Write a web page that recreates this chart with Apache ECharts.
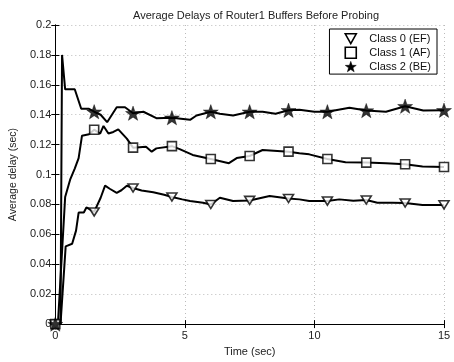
<!DOCTYPE html>
<html>
<head>
<meta charset="utf-8">
<script src="https://cdn.jsdelivr.net/npm/echarts@6/dist/echarts.min.js"></script>
<style>
html,body{margin:0;padding:0;background:#fff;}
#chart{width:454px;height:362px;}
</style>
</head>
<body>
<div id="chart"></div>
<script>
var titleText = 'Average Delays of Router1 Buffers Before Probing';
var xName = 'Time (sec)';
var yName = 'Average delay (sec)';
var seriesNames = ['Class 0 (EF)', 'Class 1 (AF)', 'Class 2 (BE)'];
var markerTimes = [0, 1.5, 3, 4.5, 6, 7.5, 9, 10.5, 12, 13.5, 15];

var timesEF = [0, 0.2, 0.4, 0.65, 0.8, 0.9, 1.1, 1.2, 1.5, 1.75, 1.92, 2.1, 2.37, 2.55, 2.76, 3.0, 3.33, 3.78, 4.2, 4.5, 4.9, 5.2, 5.7, 6.0, 6.35, 6.86, 7.5, 8.27, 9.0, 9.42, 9.8, 10.5, 10.96, 11.5, 12.0, 12.43, 13.0, 13.5, 14.17, 15];
var valuesEF = [0, 0, 0.052, 0.0537, 0.0625, 0.0746, 0.0746, 0.078, 0.075, 0.0845, 0.0926, 0.0905, 0.0878, 0.0895, 0.0925, 0.091, 0.0893, 0.0882, 0.0865, 0.085, 0.0834, 0.0823, 0.0812, 0.080, 0.0845, 0.0823, 0.0827, 0.0856, 0.084, 0.0834, 0.0823, 0.0823, 0.0834, 0.0825, 0.083, 0.0812, 0.0812, 0.081, 0.0797, 0.0797];

var timesAF = [0, 0.1, 0.38, 0.58, 0.75, 0.9, 1.03, 1.3, 1.5, 1.73, 1.86, 2.05, 2.24, 2.43, 2.76, 3.0, 3.5, 3.72, 3.9, 4.5, 4.8, 5.3, 6.0, 6.7, 7.0, 7.5, 8.0, 9.0, 9.42, 9.8, 10.5, 11.2, 12.0, 12.76, 13.5, 14.17, 15];
var valuesAF = [0, 0, 0.085, 0.097, 0.104, 0.111, 0.126, 0.127, 0.130, 0.1274, 0.1325, 0.1274, 0.1285, 0.1302, 0.124, 0.118, 0.1186, 0.1153, 0.1175, 0.119, 0.117, 0.1131, 0.1104, 0.1076, 0.111, 0.1124, 0.1164, 0.1153, 0.1142, 0.1135, 0.1104, 0.1082, 0.108, 0.1076, 0.1069, 0.1054, 0.105];

var timesBE = [0, 0.2, 0.26, 0.38, 0.75, 1.0, 1.3, 1.5, 1.75, 2.0, 2.37, 2.69, 3.0, 3.4, 3.9, 4.5, 5.2, 5.45, 6.0, 6.35, 6.86, 7.5, 8.0, 8.5, 9.0, 9.42, 10.0, 10.5, 11.35, 12.0, 12.76, 13.5, 14.2, 15];
var valuesBE = [0, 0, 0.18, 0.157, 0.157, 0.144, 0.144, 0.142, 0.140, 0.135, 0.145, 0.145, 0.141, 0.142, 0.1377, 0.138, 0.1366, 0.1395, 0.142, 0.1406, 0.1395, 0.142, 0.142, 0.1406, 0.143, 0.1434, 0.142, 0.142, 0.1446, 0.1428, 0.142, 0.1457, 0.1428, 0.143];

var FONT = 'Liberation Sans';
var STAR = 'path://M0,-10 L2.35,-3.24 L9.51,-3.09 L3.8,1.24 L5.88,8.09 L0,4 L-5.88,8.09 L-3.8,1.24 L-9.51,-3.09 L-2.35,-3.24 Z';
var TRI_DOWN = 'path://M-5,-4.5 L5,-4.5 L0,4.5 Z';

function pairs(ts, vs) { return ts.map(function (t, i) { return [t, vs[i]]; }); }
function markers(ts, vs) {
  return markerTimes.map(function (m) { var i = ts.indexOf(m); return [ts[i], vs[i]]; });
}

var markerStyles = [
  { symbol: TRI_DOWN, symbolSize: [10, 9], itemStyle: { color: '#fff', borderColor: '#000', borderWidth: 1.6 } },
  { symbol: 'rect', symbolSize: 9, itemStyle: { color: '#fff', borderColor: '#000', borderWidth: 1.6 } },
  { symbol: STAR, symbolSize: 15, itemStyle: { color: '#000', borderColor: '#000', borderWidth: 0.5 } }
];
var dataSets = [[timesEF, valuesEF], [timesAF, valuesAF], [timesBE, valuesBE]];

var series = [];
dataSets.forEach(function (d, k) {
  series.push({
    name: seriesNames[k], type: 'line', xAxisIndex: 0, yAxisIndex: 0,
    data: pairs(d[0], d[1]), showSymbol: false, symbol: 'none',
    lineStyle: { color: '#000', width: 2 }, itemStyle: { color: '#000' },
    silent: true, z: 3, animation: false
  });
  var ms = markerStyles[k];
  series.push({
    name: seriesNames[k], type: 'scatter', xAxisIndex: 0, yAxisIndex: 0,
    data: markers(d[0], d[1]), symbol: ms.symbol, symbolSize: ms.symbolSize,
    symbolKeepAspect: true,
    itemStyle: ms.itemStyle, z: 4, animation: false
  });
});

var chart = echarts.init(document.getElementById('chart'), null, { renderer: 'canvas' });
var axisLine = { show: true, lineStyle: { color: '#000', width: 1 } };
var tick = { show: true, inside: true, length: 4, lineStyle: { color: '#000' } };
chart.setOption({
  animation: false,
  backgroundColor: '#fff',
  title: {
    text: titleText, left: 251, top: 5, textAlign: 'center',
    textStyle: { fontFamily: FONT, fontSize: 11, fontWeight: 'normal', color: '#222' }
  },
  legend: {
    orient: 'vertical', right: 17, top: 29,
    backgroundColor: '#fff', borderColor: '#000', borderWidth: 1, borderRadius: 0,
    padding: [4, 6, 2, 15], itemGap: 2, itemWidth: 11, itemHeight: 11,
    textStyle: { fontFamily: FONT, fontSize: 11, color: '#111', padding: [0, 0, 0, 8] },
    data: [
      { name: seriesNames[0], icon: TRI_DOWN, itemStyle: { color: '#fff', borderColor: '#000', borderWidth: 1.6 } },
      { name: seriesNames[1], icon: 'rect', itemStyle: { color: '#fff', borderColor: '#000', borderWidth: 1.6 } },
      { name: seriesNames[2], icon: STAR, itemStyle: { color: '#000', borderColor: '#000', borderWidth: 0.5 } }
    ],
    selectedMode: false
  },
  grid: { left: 55, right: 10, top: 25, bottom: 34, containLabel: false },
  xAxis: [
    {
      type: 'value', min: 0, max: 15, interval: 5, position: 'bottom',
      name: xName, nameLocation: 'middle', nameGap: 18,
      nameTextStyle: { fontFamily: FONT, fontSize: 11, color: '#222' },
      axisLine: axisLine, axisTick: tick,
      axisLabel: { fontFamily: FONT, fontSize: 11, color: '#222', margin: 6 },
      splitLine: { show: true, lineStyle: { color: '#bbb', type: [1, 3], width: 1 } }
    },
    {
      type: 'value', min: 0, max: 15, interval: 5, position: 'top',
      axisLine: axisLine, axisTick: tick, axisLabel: { show: false }, splitLine: { show: false }
    }
  ],
  yAxis: [
    {
      type: 'value', min: 0, max: 0.2, interval: 0.02, position: 'left',
      name: yName, nameLocation: 'middle', nameGap: 35,
      nameTextStyle: { fontFamily: FONT, fontSize: 10.5, color: '#222' },
      axisLine: axisLine, axisTick: tick,
      axisLabel: { fontFamily: FONT, fontSize: 11, color: '#222', margin: 4,
        formatter: function (v) { return String(parseFloat(v.toFixed(2))); } },
      splitLine: { show: true, lineStyle: { color: '#bbb', type: [1, 3], width: 1 } }
    },
    {
      type: 'value', min: 0, max: 0.2, interval: 0.02, position: 'right',
      axisLine: axisLine, axisTick: tick, axisLabel: { show: false }, splitLine: { show: false }
    }
  ],
  series: series
});
</script>
</body>
</html>
